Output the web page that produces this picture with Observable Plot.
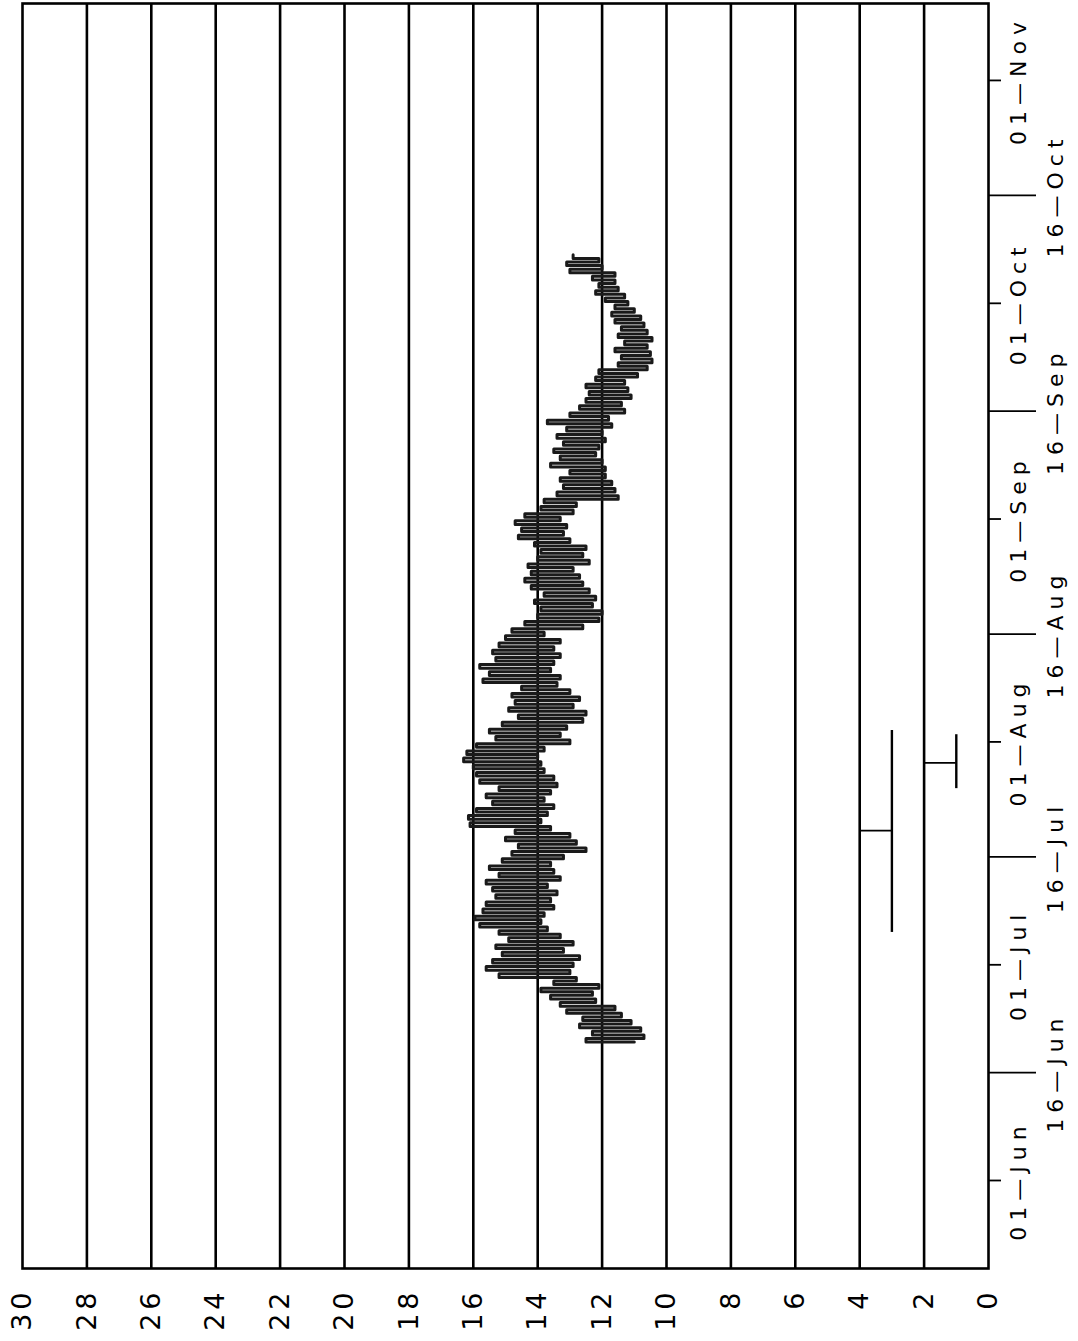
<!DOCTYPE html>
<html>
<head>
<meta charset="utf-8">
<script src="https://cdn.jsdelivr.net/npm/d3@7"></script>
<script src="https://cdn.jsdelivr.net/npm/@observablehq/plot@0.6"></script>
<style>
  html, body { margin: 0; padding: 0; background: #fff; }
</style>
</head>
<body>
<div id="chart"></div>
<script>
// ---- data ----
const firstDataDay = "1995-06-20";           // first day of the record
// daily low / high values (20 Jun .. 07 Oct)
const dailyLow = [
  11.0,10.7,10.8,11.1, 11.4,11.6, 12.2,12.3,12.1, 12.8,13.0,12.9,
  12.7,13.2,12.9,13.3, 13.7,13.9,13.8,13.5,13.6, 13.4,13.7,13.3,13.5,13.6,13.2,
  12.5,12.8,13.0, 13.6,13.9,13.7, 13.5,13.8,13.6,13.4, 13.5,13.8, 13.9,14.0,13.8,
  13.0,13.3,13.1, 12.6,12.5,12.9,12.7,13.0, 13.4,13.3,13.6,13.5,13.3,
  13.5,13.3,13.8,12.6, 12.1,12.0,12.3,12.2,12.4, 12.6,12.7,12.9, 12.4,12.6,12.5,
  13.0,13.2,13.1,13.3, 12.9,12.8, 11.5,11.6,11.7,11.9, 11.9,12.0,12.2,12.1,11.9,12.0,
  11.7,11.8, 11.3,11.4, 11.1,11.2,11.3,10.9, 10.6,10.45,10.5,10.6,10.45,10.6,10.7,
  10.8,11.0,11.2, 11.3,11.5,11.6, 11.6,12.0,12.1
];
const dailyHigh = [
  12.5,12.3,12.7,12.6, 13.1,13.3, 13.6,13.9,13.5, 15.2,15.6,15.4,
  15.1,15.3,14.9,15.2, 15.8,15.95,15.7,15.6,15.3, 15.4,15.6,15.2,15.5,15.1,14.8,
  14.6,15.0,14.7, 16.1,16.15,15.9, 15.4,15.6,15.2,15.8, 15.9,16.0, 16.3,16.2,15.9,
  15.3,15.5,15.1, 14.6,14.9,14.7,14.8,14.5, 15.7,15.5,15.8,15.3,15.4,
  15.2,15.0,14.8,14.4, 14.0,13.9,14.1,13.8,14.2, 14.4,14.2,14.3, 14.0,13.9,14.1,
  14.6,14.5,14.7,14.4, 13.9,13.8, 13.4,13.2,13.3,13.0, 13.6,13.3,13.5,13.2,13.4,13.1,
  13.7,13.0, 12.7,12.5, 12.4,12.5,12.2,12.1, 11.5,11.4,11.6,11.3,11.5,11.4,11.6,
  11.7,11.6,11.9, 12.2,12.1,12.3, 13.0,13.1,12.9
];
// reference bars (value, start date, end date, tick date, tick reaches value)
const barValue = [3.0, 1.0];
const barStart = ["1995-07-05T12:00", "1995-07-25T12:00"];
const barEnd   = ["1995-08-02T14:00", "1995-08-02T00:00"];
const barMid   = ["1995-07-19T16:00", "1995-07-29T02:00"];
const barTickTo = [4, 2];

const valueTicks = [0,2,4,6,8,10,12,14,16,18,20,22,24,26,28,30];
const gridValues = [2,4,6,8,10,12,14,16,18,20,22,24,26,28];
const firstOfMonthTicks = ["1995-06-01","1995-07-01","1995-08-01","1995-09-01","1995-10-01","1995-11-01"];
const firstOfMonthLabels = ["01—Jun","01—Jul","01—Aug","01—Sep","01—Oct","01—Nov"];
const midMonthTicks = ["1995-06-16","1995-07-16","1995-08-16","1995-09-16","1995-10-16"];
const midMonthLabels = ["16—Jun","16—Jul","16—Aug","16—Sep","16—Oct"];

// ---- build tables ----
const DAY = 864e5;
const parse = s => new Date(s + (s.length === 10 ? "T00:00Z" : "Z"));
const t0 = parse(firstDataDay).getTime();
const series = [];
dailyLow.forEach((lo, i) => {
  series.push({t: new Date(t0 + (i + 0.25) * DAY), v: lo});
  series.push({t: new Date(t0 + (i + 0.75) * DAY), v: dailyHigh[i]});
});
const bars = barValue.map((v, i) => ({
  v, start: parse(barStart[i]), end: parse(barEnd[i]), mid: parse(barMid[i]), to: barTickTo[i]
}));
const firstTicks = firstOfMonthTicks.map((d, i) => ({t: parse(d), label: firstOfMonthLabels[i]}));
const midTicks = midMonthTicks.map((d, i) => ({t: parse(d), label: midMonthLabels[i]}));

const jun1 = parse("1995-06-01").getTime();
const yDomain = [new Date(jun1 - 12.24 * DAY), new Date(jun1 + 163.7 * DAY)];

const chart = Plot.plot({
  width: 1078,
  height: 1341,
  marginLeft: 22,
  marginRight: 90,
  marginTop: 3,
  marginBottom: 73,
  style: {fontFamily: "DejaVu Sans", background: "#fff", color: "#000"},
  x: {domain: [0, 30], reverse: true, axis: null},
  y: {type: "utc", domain: yDomain, axis: null},
  marks: [
    Plot.ruleX(gridValues, {x: d => d, stroke: "#000", strokeWidth: 2.6}),
    Plot.frame({stroke: "#000", strokeWidth: 2.6}),
    Plot.line(series, {x: "v", y: "t", curve: "step-after", stroke: "#1a1a1a", strokeWidth: 3}),
    Plot.ruleX(bars, {x: "v", y1: "start", y2: "end", stroke: "#000", strokeWidth: 2.4}),
    Plot.ruleY(bars, {y: "mid", x1: "v", x2: "to", stroke: "#000", strokeWidth: 1.8}),
    Plot.axisY(firstTicks.map(d => d.t), {anchor: "right", tickSize: 12, tickFormat: () => "", strokeWidth: 1.8, label: null}),
    Plot.axisY(midTicks.map(d => d.t), {anchor: "right", tickSize: 47, tickFormat: () => "", strokeWidth: 1.8, label: null}),
    Plot.text(firstTicks, {y: "t", text: "label", frameAnchor: "right", dx: 22, rotate: -90,
      textAnchor: "middle", lineAnchor: "top", fontSize: 22, fill: "#000"}),
    Plot.text(midTicks, {y: "t", text: "label", frameAnchor: "right", dx: 59, rotate: -90,
      textAnchor: "middle", lineAnchor: "top", fontSize: 22, fill: "#000"}),
    Plot.text(valueTicks, {x: d => d, text: d => String(d), frameAnchor: "bottom", dy: 20, rotate: -90,
      textAnchor: "end", lineAnchor: "middle", fontSize: 27, fill: "#000"})
  ]
});
// wider letter spacing, like the plotter font of the original
d3.select(chart).selectAll("text").each(function() {
  const s = this.textContent;
  if (s.includes("—")) d3.select(this).style("letter-spacing", "6px");
  else if (/^\d+$/.test(s)) d3.select(this).style("letter-spacing", "4px");
});
document.getElementById("chart").appendChild(chart);
</script>
</body>
</html>
